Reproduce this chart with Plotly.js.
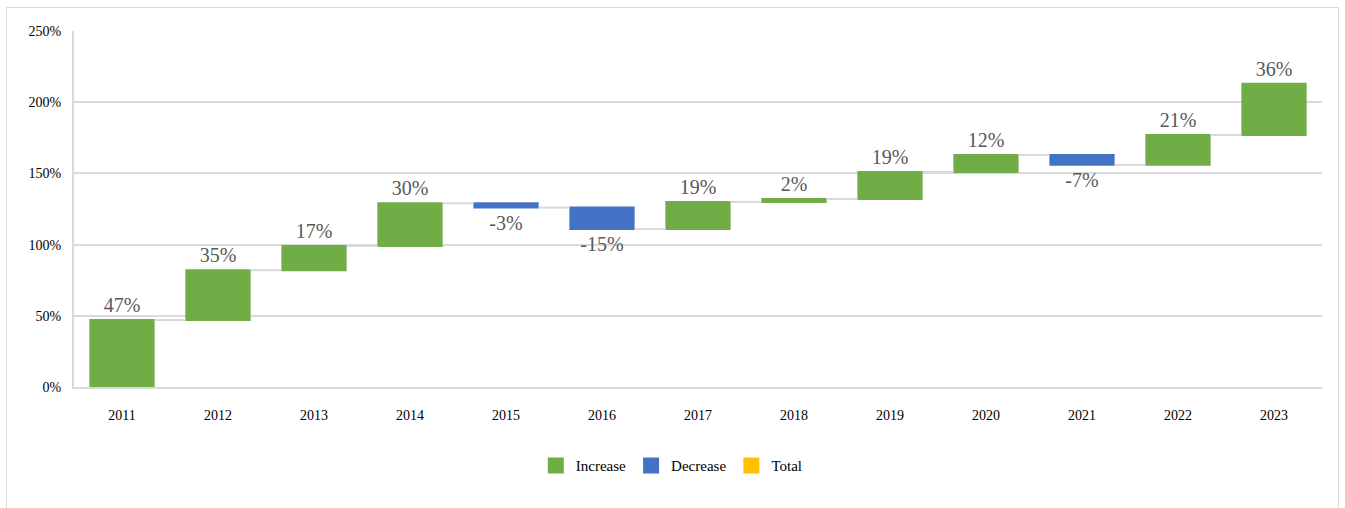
<!DOCTYPE html>
<html>
<head>
<meta charset="utf-8">
<script src="https://cdn.plot.ly/plotly-3.0.1.min.js"></script>
<style>
  body { margin: 0; background: #fff; }
  #frame { position: absolute; left: 6px; top: 7px; width: 1331px; height: 520px; border: 1px solid #d9d9d9; }
  #chart { position: absolute; left: 0; top: 0; width: 1345px; height: 508px; }
</style>
</head>
<body>
<div id="frame"></div>
<div id="chart"></div>
<script>
// yearly change (percentage points)
var years = ['2011', '2012', '2013', '2014', '2015', '2016', '2017', '2018', '2019', '2020', '2021', '2022', '2023'];
var changes = [47, 35, 17, 30, -3, -15, 19, 2, 19, 12, -7, 21, 36];
var legendNames = ['Increase', 'Decrease', 'Total'];
var legendColors = ['#70ad47', '#4472c4', '#ffc000'];

var serif = 'Liberation Serif';
var labelFont = {family: serif, size: 20, color: '#595959'};

var data = [{
  type: 'waterfall',
  x: years,
  y: changes,
  measure: changes.map(function () { return 'relative'; }),
  text: changes.map(function (v) { return v + '%'; }),
  textposition: 'outside',
  textfont: labelFont,
  outsidetextfont: labelFont,
  cliponaxis: false,
  hoverinfo: 'x+text',
  increasing: {marker: {color: legendColors[0]}},
  decreasing: {marker: {color: legendColors[1]}},
  totals: {marker: {color: legendColors[2]}},
  connector: {line: {color: '#d9d9d9', width: 2}},
  showlegend: false
}];

// legend-only entries
legendNames.forEach(function (name, i) {
  data.push({
    type: 'scatter',
    mode: 'markers',
    x: [null],
    y: [null],
    name: name,
    marker: {symbol: 'square', size: 20, color: legendColors[i]},
    showlegend: true
  });
});

var layout = {
  width: 1345,
  height: 508,
  margin: {l: 74, r: 23, t: 31, b: 121},
  paper_bgcolor: 'rgba(0,0,0,0)',
  plot_bgcolor: 'rgba(0,0,0,0)',
  font: {family: serif, size: 14, color: '#000'},
  waterfallgap: 0.32,
  xaxis: {
    type: 'category',
    showgrid: false,
    showline: true,
    linecolor: '#d9d9d9',
    linewidth: 2,
    ticks: 'outside',
    ticklen: 14,
    tickcolor: 'rgba(0,0,0,0)',
    tickfont: {size: 14}
  },
  yaxis: {
    range: [0, 250],
    dtick: 50,
    ticksuffix: '%',
    gridcolor: '#d9d9d9',
    gridwidth: 2,
    zeroline: false,
    showline: true,
    linecolor: '#d9d9d9',
    linewidth: 2,
    tickfont: {size: 14},
    ticklen: 8,
    ticks: 'outside',
    tickcolor: 'rgba(0,0,0,0)'
  },
  legend: {
    orientation: 'h',
    x: 0.479,
    xanchor: 'center',
    y: -0.175,
    yanchor: 'top',
    font: {size: 15}
  }
};

Plotly.newPlot('chart', data, layout, {displayModeBar: false});
</script>
</body>
</html>
